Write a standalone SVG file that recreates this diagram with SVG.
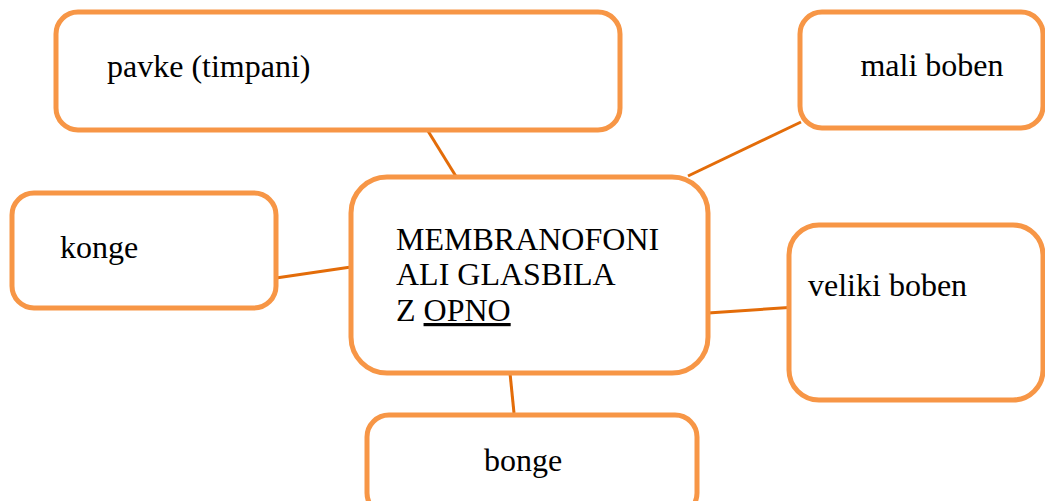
<svg xmlns="http://www.w3.org/2000/svg" width="1045" height="501" viewBox="0 0 1045 501">
<style>
.box{fill:#fff;stroke:#F79646;stroke-width:5}
.con{stroke:#E36C09;stroke-width:3;fill:none}
.t{font-family:"Liberation Serif","Times New Roman",serif;font-size:32px;fill:#000}
</style>
<rect width="1045" height="501" fill="#fff"/>
<g id="connectors">
<line class="con" x1="428" y1="131" x2="457" y2="178"/>
<line class="con" x1="801" y1="122" x2="688" y2="176"/>
<line class="con" x1="276" y1="278" x2="351" y2="267"/>
<line class="con" x1="708" y1="313" x2="789" y2="307.5"/>
<line class="con" x1="510" y1="373" x2="514" y2="413"/>
</g>
<g id="pavke">
<rect class="box" x="56" y="12" width="564" height="118" rx="22"/>
<text class="t" x="107" y="77">pavke (timpani)</text>
</g>
<g id="mali-boben">
<rect class="box" x="800" y="12" width="243" height="116" rx="22"/>
<text class="t" x="932" y="76" text-anchor="middle">mali boben</text>
</g>
<g id="konge">
<rect class="box" x="12" y="193" width="264" height="115" rx="22"/>
<text class="t" x="60" y="258">konge</text>
</g>
<g id="center">
<rect class="box" x="351" y="177" width="357" height="196" rx="36"/>
<text class="t" x="396" y="250">MEMBRANOFONI</text>
<text class="t" x="396" y="285">ALI GLASBILA</text>
<text class="t" x="396" y="321">Z <tspan text-decoration="underline">OPNO</tspan></text>
</g>
<g id="veliki-boben">
<rect class="box" x="789" y="225" width="254" height="175" rx="30"/>
<text class="t" x="808" y="296">veliki boben</text>
</g>
<g id="bonge">
<rect class="box" x="367" y="415" width="330" height="100" rx="22"/>
<text class="t" x="523" y="471" text-anchor="middle">bonge</text>
</g>
</svg>
